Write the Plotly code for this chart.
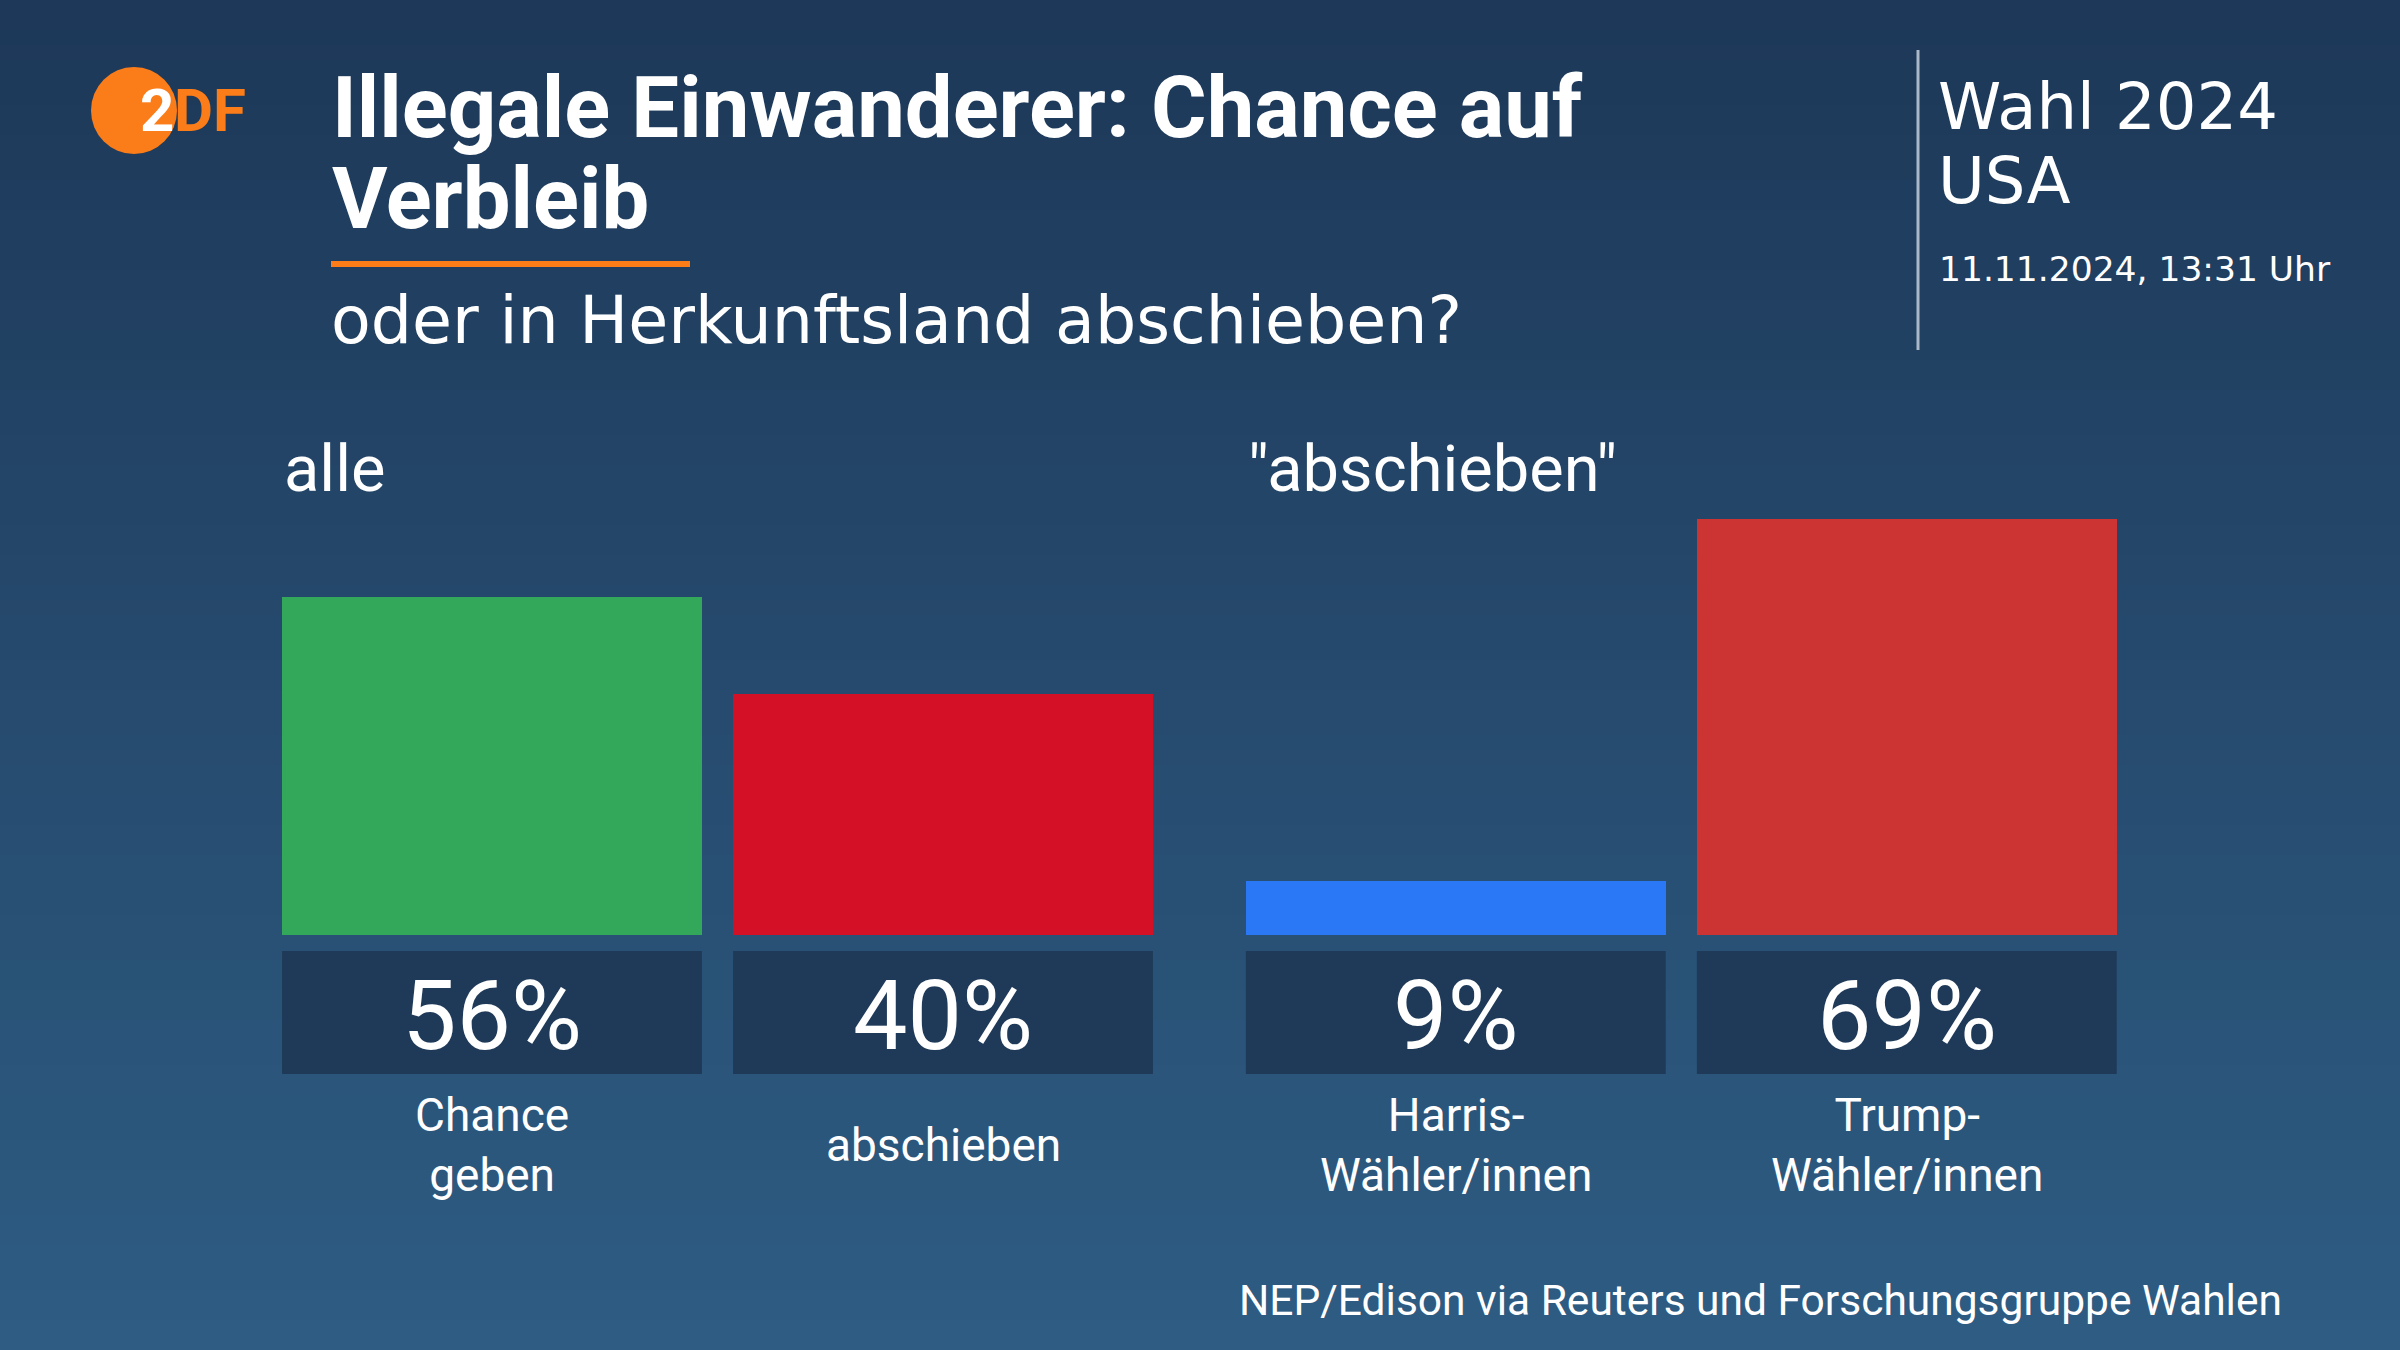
import plotly.graph_objects as go

# ---------------- data ----------------
categories = ["Chance<br>geben", "abschieben", "Harris-<br>Wähler/innen", "Trump-<br>Wähler/innen"]
values = [56, 40, 9, 69]
groups = [0, 0, 1, 1]
group_titles = ["alle", "\"abschieben\""]
bar_colors = ["#34a85a", "#d41027", "#2b78f7", "#cc3434"]

title_line1 = "Illegale Einwanderer: Chance auf"
title_line2 = "Verbleib"
subtitle = "oder in Herkunftsland abschieben?"
header1 = "Wahl 2024"
header2 = "USA"
date_text = "11.11.2024, 13:31 Uhr"
source_text = "NEP/Edison via Reuters und Forschungsgruppe Wahlen"

# ---------------- layout helpers ----------------
W, H = 2400, 1350
FONT = "Roboto"
WIDE = "DejaVu Sans"
GROUP_GAP = 0.137
BAR_W = 0.931
PX_PER_UNIT = 451.0
FIRST_CENTER_PX = 492.0
BASE_PX = 935.0          # baseline of bars (from top)
PX_PER_PCT = 6.03

def py(px_from_top):
    return 1 - px_from_top / H

def pxx(px):
    return px / W

xs = [i + g * GROUP_GAP for i, g in enumerate(groups)]

x_range = [(0 - FIRST_CENTER_PX) / PX_PER_UNIT, (W - FIRST_CENTER_PX) / PX_PER_UNIT]
y_bottom_px = H - BASE_PX
y_range = [-y_bottom_px / PX_PER_PCT, (H - y_bottom_px) / PX_PER_PCT]

fig = go.Figure()
fig.add_trace(go.Bar(
    x=xs, y=values, width=BAR_W,
    marker=dict(color=bar_colors, line=dict(width=0)),
    hoverinfo="skip", showlegend=False,
))

shapes = []
# background gradient
top_c = (0x1d, 0x38, 0x58)
bot_c = (0x2e, 0x5c, 0x83)
N = 90
for k in range(N):
    t = k / (N - 1)
    c = tuple(int(round(top_c[j] + (bot_c[j] - top_c[j]) * t)) for j in range(3))
    shapes.append(dict(type="rect", xref="paper", yref="paper",
                       x0=0, x1=1, y0=1 - (k + 1) / N - 0.002, y1=1 - k / N,
                       fillcolor="rgb(%d,%d,%d)" % c, line=dict(width=0), layer="below"))

# value boxes beneath bars
for x in xs:
    shapes.append(dict(type="rect", xref="x", yref="paper",
                       x0=x - BAR_W / 2, x1=x + BAR_W / 2, y0=py(1074), y1=py(951),
                       fillcolor="#1f3a59", line=dict(width=0), layer="above"))

# orange underline under title
shapes.append(dict(type="rect", xref="paper", yref="paper",
                   x0=pxx(331), x1=pxx(690), y0=py(267), y1=py(261),
                   fillcolor="#fa7d19", line=dict(width=0)))
# vertical separator line at right header
shapes.append(dict(type="line", xref="paper", yref="paper",
                   x0=pxx(1918), x1=pxx(1918), y0=py(50), y1=py(350),
                   line=dict(color="#aab8c8", width=3)))
# ZDF logo circle
shapes.append(dict(type="circle", xref="paper", yref="paper",
                   x0=pxx(91), x1=pxx(177), y0=py(154), y1=py(67),
                   fillcolor="#fa7d19", line=dict(width=0)))

ann = []
def txt(text, x, y, size, color="white", xanchor="left", weight="normal", family=FONT, xref="paper"):
    ann.append(dict(text=text, x=x, y=y, xref=xref, yref="paper",
                    xanchor=xanchor, yanchor="middle", showarrow=False,
                    font=dict(family=family, size=size, color=color, weight=weight)))

# logo text
txt("2", pxx(138), py(111), 60, "white", weight="bold")
txt("DF", pxx(172), py(111), 60, "#fa7d19", weight="bold")

# titles
txt(title_line1, pxx(330), py(108), 85, weight="bold")
txt(title_line2, pxx(330), py(199), 85, weight="bold")
txt(subtitle, pxx(329), py(321), 65, family=WIDE)

# right header
txt(header1, pxx(1936), py(107), 64, family=WIDE)
txt(header2, pxx(1936), py(181), 64, family=WIDE)
txt(date_text, pxx(1937), py(269), 34.5, family=WIDE)

# group titles
for g, title in enumerate(group_titles):
    first = groups.index(g)
    txt(title, xs[first] - BAR_W / 2, py(469), 65, xref="x")

# values and category labels
for x, v, c in zip(xs, values, categories):
    txt("%d%%" % v, x, py(1016), 97, xanchor="center", xref="x")
    txt(c, x, py(1145), 46, xanchor="center", xref="x")

# source
txt(source_text, pxx(2284), py(1300), 42.5, xanchor="right")

fig.update_layout(
    width=W, height=H,
    margin=dict(l=0, r=0, t=0, b=0),
    paper_bgcolor="#26496c",
    plot_bgcolor="rgba(0,0,0,0)",
    xaxis=dict(range=x_range, domain=[0, 1], visible=False, fixedrange=True),
    yaxis=dict(range=y_range, domain=[0, 1], visible=False, fixedrange=True),
    shapes=shapes,
    annotations=ann,
    bargap=0,
    showlegend=False,
)

fig.write_html("out.html", config={"displayModeBar": False})
